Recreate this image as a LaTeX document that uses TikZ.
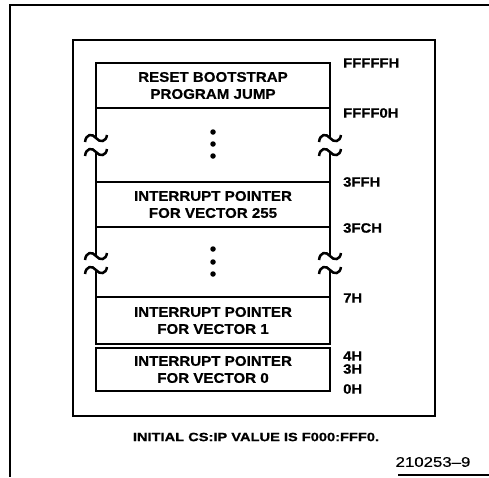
\documentclass[tikz,border=0pt]{standalone}
\usepackage{fontspec}
\setmainfont{Liberation Sans}
\newfontfamily\boxf[FakeStretch=1.08,FakeBold=0.6]{Liberation Sans}
\newfontfamily\labf[FakeStretch=1.1,FakeBold=0.6]{Liberation Sans}
\newfontfamily\notef[FakeStretch=1.22,FakeBold=0.8]{Liberation Sans}
\newfontfamily\numf[FakeStretch=1.2,FakeBold=0.4]{Liberation Sans}
\begin{document}
\begin{tikzpicture}[x=1pt,y=-1pt,
  mem/.style={draw, line width=2.3pt, minimum width=234pt, inner sep=0pt, outer sep=0pt,
    align=center, font=\boxf\bfseries\fontsize{14}{17}\selectfont},
  addr/.style={anchor=west, inner sep=0pt, font=\labf\bfseries\fontsize{13.5}{13.5}\selectfont},
  col/.style={line width=2.8pt},
  framel/.style={line width=2pt},
  memdot/.style={circle, fill, inner sep=0pt, minimum size=5.5pt},
  brk/.pic={
    \draw[line width=2.5pt] (-11,-3) .. controls (-10,-11) and (-4,-12) .. (0,-7)
      .. controls (4,-2) and (10,-3) .. (11,-10);
    \draw[line width=2.5pt] (-11,11) .. controls (-10,3) and (-4,2) .. (0,7)
      .. controls (4,12) and (10,11) .. (11,4);
  }]
\useasboundingbox (0,0) rectangle (489,477);
% outer frame
\coordinate (otr) at (489,5);
\coordinate (otl) at (10,5);
\coordinate (obl) at (10,477);
\draw[framel] (otr) -- (otl) -- (obl);
\coordinate (bl) at (398,475);
\coordinate (br) at (489,475);
\draw[line width=1.6pt] (bl) -- (br);
% inner frame
\node[draw, line width=2.5pt, minimum width=362pt, minimum height=376pt, inner sep=0pt, outer sep=0pt] (inner) at (254,228) {};
% memory boxes
\node[mem, minimum height=45pt] (reset) at (213,85.5) {RESET BOOTSTRAP\\PROGRAM JUMP};
\node[mem, minimum height=45pt] (v255) at (213,204.5) {INTERRUPT POINTER\\FOR VECTOR 255};
\node[mem, minimum height=47pt] (v1) at (213,320.5) {INTERRUPT POINTER\\FOR VECTOR 1};
\node[mem, minimum height=43pt] (v0) at (213,369.5) {INTERRUPT POINTER\\FOR VECTOR 0};
% column sides with breaks
\coordinate (l1t) at (96,138); \coordinate (l1b) at (96,152);
\coordinate (r1t) at (330,138); \coordinate (r1b) at (330,152);
\coordinate (l2t) at (96,256); \coordinate (l2b) at (96,270);
\coordinate (r2t) at (330,256); \coordinate (r2b) at (330,270);
\draw[col] (reset.south west) -- (l1t);
\draw[col] (l1b) -- (v255.north west);
\draw[col] (reset.south east) -- (r1t);
\draw[col] (r1b) -- (v255.north east);
\draw[col] (v255.south west) -- (l2t);
\draw[col] (l2b) -- (v1.north west);
\draw[col] (v255.south east) -- (r2t);
\draw[col] (r2b) -- (v1.north east);
\pic at (96,145) {brk};
\pic at (330,145) {brk};
\pic at (96,263) {brk};
\pic at (330,263) {brk};
% dots
\node[memdot] (d1) at (213,132) {};
\node[memdot] (d2) at (213,144) {};
\node[memdot] (d3) at (213,156) {};
\node[memdot] (d4) at (213,249) {};
\node[memdot] (d5) at (213,262) {};
\node[memdot] (d6) at (213,274) {};
% addresses
\node[addr] (a1) at (343,63) {FFFFFH};
\node[addr] (a2) at (343,113) {FFFF0H};
\node[addr] (a3) at (343,182) {3FFH};
\node[addr] (a4) at (343,228) {3FCH};
\node[addr] (a5) at (343,298) {7H};
\node[addr] (a6) at (343,356) {4H};
\node[addr] (a7) at (343,369) {3H};
\node[addr] (a8) at (343,389) {0H};
% notes
\node[inner sep=0pt, font=\notef\bfseries\fontsize{12}{12}\selectfont] (note) at (256,437) {INITIAL CS:IP VALUE IS F000:FFF0.};
\node[inner sep=0pt, font=\numf\fontsize{14}{14}\selectfont] (fig) at (433,462) {210253\textendash 9};
\end{tikzpicture}
\end{document}
